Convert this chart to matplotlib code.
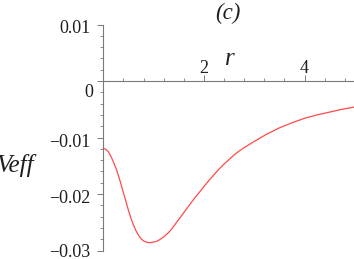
import numpy as np
import matplotlib
matplotlib.use("Agg")
import matplotlib.pyplot as plt
from matplotlib.transforms import ScaledTranslation
from matplotlib.ticker import FixedLocator

# ---- data ----
r_vals = [0.0, 0.05, 0.1, 0.15, 0.2, 0.25, 0.3, 0.35, 0.4, 0.45, 0.5, 0.55,
          0.6, 0.65, 0.7, 0.75, 0.8, 0.85, 0.9, 0.95, 1.0, 1.05, 1.1, 1.15,
          1.2, 1.25, 1.3, 1.35, 1.4, 1.5, 1.6, 1.7, 1.8, 1.9, 2.0, 2.1, 2.2,
          2.3, 2.4, 2.5, 2.6, 2.7, 2.8, 3.0, 3.25, 3.5, 3.75, 4.0, 4.25, 4.5,
          4.75, 5.0]
veff_vals = [-0.0119, -0.0121, -0.0125, -0.0133, -0.0143, -0.0154, -0.0167,
             -0.0182, -0.0198, -0.0213, -0.0229, -0.0243, -0.0255, -0.0265,
             -0.0273, -0.0279, -0.0283, -0.0285, -0.0286, -0.0286, -0.0285,
             -0.0284, -0.0282, -0.0279, -0.0276, -0.0272, -0.0268, -0.0263,
             -0.0257, -0.0245, -0.0233, -0.0221, -0.0209, -0.0198, -0.0187,
             -0.0176, -0.0166, -0.0156, -0.0147, -0.0139, -0.0131, -0.0124,
             -0.0118, -0.0107, -0.0094, -0.0083, -0.0074, -0.0066, -0.0060,
             -0.0055, -0.0050, -0.0046]

x_major = [2, 4]
x_major_labels = ["2", "4"]
x_minor = [0.4, 0.8, 1.2, 1.6, 2.4, 2.8, 3.2, 3.6, 4.4, 4.8]
y_major = [0.01, 0.0, -0.01, -0.02, -0.03]
y_major_labels = ["0.01", "0", "\u22120.01", "\u22120.02", "\u22120.03"]
y_minor = [0.008, 0.006, 0.004, 0.002, -0.002, -0.004, -0.006, -0.008,
           -0.012, -0.014, -0.016, -0.018, -0.022, -0.024, -0.026, -0.028]

plt.rcParams['font.family'] = ['Liberation Serif', 'DejaVu Serif']

W, H = 354, 259
fig = plt.figure(figsize=(W / 100, H / 100), dpi=100)
left = 103.3 / W
width = (354.8 - 103.3) / W
bottom = 1 - 250.5 / H
top = 1 - 24.5 / H
ax = fig.add_axes([left, bottom, width, top - bottom])

ax.plot(r_vals, veff_vals, color='#ff4a4a', lw=0.9, clip_on=False,
        solid_joinstyle='round')
ax.set_xlim(0, 5)
ax.set_ylim(-0.03, 0.01)

axcol = '#7a7a7a'
txtcol = '#1e1e1e'
ax.spines['right'].set_visible(False)
ax.spines['bottom'].set_visible(False)
ax.spines['top'].set_position(('data', 0))
ax.spines['left'].set_position(('data', 0))
for s in ('top', 'left'):
    ax.spines[s].set_color(axcol)
    ax.spines[s].set_linewidth(0.8)

ax.xaxis.set_ticks_position('top')
ax.yaxis.set_ticks_position('left')
ax.xaxis.set_major_locator(FixedLocator(x_major))
ax.xaxis.set_minor_locator(FixedLocator(x_minor))
ax.yaxis.set_major_locator(FixedLocator(y_major))
ax.yaxis.set_minor_locator(FixedLocator(y_minor))
ax.tick_params(axis='both', which='both', colors=axcol, labeltop=False,
               labelbottom=False, labelleft=False, direction='out')
ax.tick_params(axis='both', which='major', length=4.5, width=0.7)
ax.tick_params(axis='both', which='minor', length=2.2, width=0.6)

fs = 13
px = 1 / 100.0
# y tick labels (baseline offsets below tick, right-edge gap from axis)
y_base_off = [8.4, 15.7, 9.4, 9.0, 6.5]
y_right_gap = [12.5, 10.0, 13.0, 13.0, 13.0]
for v, lab, dy, gx in zip(y_major, y_major_labels, y_base_off, y_right_gap):
    tr = ax.transData + ScaledTranslation(-gx * px, -dy * px, fig.dpi_scale_trans)
    ax.text(0, v, lab, transform=tr, ha='right', va='baseline', fontsize=fs,
            color=txtcol)
# x tick labels (above the axis)
for v, lab in zip(x_major, x_major_labels):
    tr = ax.transData + ScaledTranslation(0, 8.3 * px, fig.dpi_scale_trans)
    ax.text(v, 0, lab, transform=tr, ha='center', va='baseline', fontsize=fs,
            color=txtcol)

# axis labels and panel label
fig.text(230 / W, 1 - 65 / H, "r", ha='center', va='baseline', fontsize=18,
         style='italic', color=txtcol)
fig.text(227.5 / W, 1 - 13.3 / H, "(c)", ha='center', va='center',
         fontsize=16.5, style='italic', color=txtcol)
fig.text(34 / W, 1 - 172 / H, "Veff", ha='right', va='baseline',
         fontsize=18, style='italic', color=txtcol)

fig.savefig("out.png", dpi=100)
